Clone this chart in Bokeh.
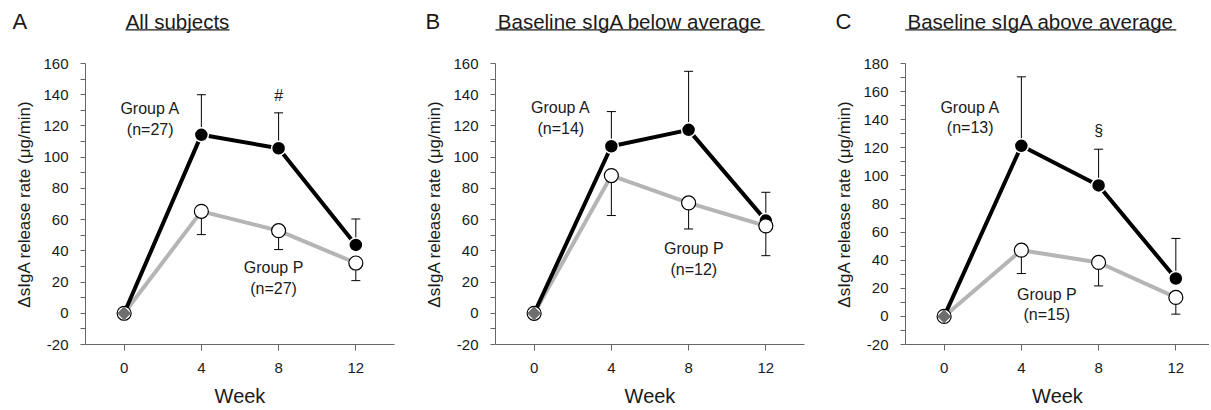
from bokeh.plotting import figure
from bokeh.layouts import row, column
from bokeh.models import FixedTicker, Range1d
from bokeh.embed import file_html
from bokeh.resources import INLINE
from bokeh.core.properties import value
import math

FONT = "Liberation Sans"

weeks = [0, 4, 8, 12]
week_ticks = [0, 4, 8, 12]

# Panel A: All subjects
a_groupA = [0, 114.3, 105.7, 43.8]
a_groupA_se = [0, 25.7, 22.7, 16.6]
a_groupP = [0, 65.3, 52.9, 32.2]
a_groupP_se = [0, 14.9, 12.1, 11.3]

# Panel B: Baseline sIgA below average
b_groupA = [0, 107.0, 117.5, 59.4]
b_groupA_se = [0, 22.2, 37.5, 18.1]
b_groupP = [0, 88.2, 70.7, 56.0]
b_groupP_se = [0, 25.6, 16.7, 19.1]

# Panel C: Baseline sIgA above average
c_groupA = [0, 121.4, 93.2, 27.0]
c_groupA_se = [0, 49.1, 25.8, 28.5]
c_groupP = [0, 47.1, 38.4, 13.5]
c_groupP_se = [0, 16.6, 16.7, 11.9]

panel_letters = ["A", "B", "C"]
panel_titles = ["All subjects", "Baseline sIgA below average", "Baseline sIgA above average"]
n_groupA = ["(n=27)", "(n=14)", "(n=13)"]
n_groupP = ["(n=27)", "(n=12)", "(n=15)"]
y_max = [160, 160, 180]
marks = ["#", None, "\u00a7"]

# layout (pixels)
TITLE_H = 55
PX_PER_WEEK = 19.31
fig_widths = [400, 408, 401]
border_left = [85, 95, 97]
border_right = [6, 4, 0]
letter_left = [12, 425, 835]
title_center = [177, 629.5, 1040.3]
underline_w = [104, 269, 271]

TOTAL_W = sum(fig_widths)

# ---- title strip (letters + underlined titles) ----
t = figure(width=TOTAL_W, height=TITLE_H, output_backend="svg", toolbar_location=None,
           x_range=Range1d(0, TOTAL_W), y_range=Range1d(TITLE_H, 0),
           x_axis_type=None, y_axis_type=None,
           min_border_left=0, min_border_right=0, min_border_top=0, min_border_bottom=0)
t.outline_line_color = None
t.xgrid.visible = False
t.ygrid.visible = False
t.text(x=letter_left, y=[20.5] * 3, text=panel_letters, text_font=value(FONT),
       text_font_size="22px", text_color="#1a1a1a", text_align="left",
       text_baseline="middle")
t.text(x=title_center, y=[20.5] * 3, text=panel_titles, text_font=value(FONT),
       text_font_size="20.5px", text_color="#1a1a1a", text_align="center",
       text_baseline="middle")
t.segment(x0=[c - w / 2 for c, w in zip(title_center, underline_w)], y0=[29.3] * 3,
          x1=[c + w / 2 for c, w in zip(title_center, underline_w)], y1=[29.3] * 3,
          line_color="#1a1a1a", line_width=1.2)


def make_panel(A, A_se, P, P_se, ymax, nA, nP, labA, labP, mark, mark_y,
               width, left, right):
    frame_w = width - left - right
    x_end = -2 + frame_w / PX_PER_WEEK
    p = figure(width=width, height=410 - TITLE_H, output_backend="svg",
               toolbar_location=None,
               x_range=Range1d(-2, x_end), y_range=Range1d(-20, ymax),
               min_border_left=left, min_border_right=right,
               min_border_top=8, min_border_bottom=66)
    p.outline_line_color = None
    p.xgrid.visible = False
    p.ygrid.visible = False

    # axes
    p.xaxis.ticker = FixedTicker(ticks=week_ticks)
    p.yaxis.ticker = FixedTicker(ticks=list(range(-20, ymax + 1, 20)),
                                 minor_ticks=list(range(-10, ymax, 20)))
    p.yaxis.major_label_overrides = {-20: "-20"}
    for ax in (p.xaxis[0], p.yaxis[0]):
        ax.axis_line_color = "#666666"
        ax.major_tick_line_color = "#666666"
        ax.minor_tick_line_color = "#666666"
        ax.major_tick_in = 0
        ax.minor_tick_in = 0
        ax.major_label_text_font = FONT
        ax.major_label_text_font_size = "15px"
        ax.major_label_text_color = "#1a1a1a"
        ax.axis_label_text_font = FONT
        ax.axis_label_text_font_style = "normal"
        ax.axis_label_text_color = "#1a1a1a"
    p.xaxis.major_tick_out = 6
    p.xaxis.minor_tick_line_color = None
    p.xaxis.major_label_standoff = 12
    p.xaxis.axis_label = "Week"
    p.xaxis.axis_label_text_font_size = "20px"
    p.xaxis.axis_label_standoff = 9
    p.yaxis.major_tick_out = 5
    p.yaxis.minor_tick_out = 5
    p.yaxis.major_label_standoff = 12
    p.yaxis.axis_label = "\u0394sIgA release rate (\u03bcg/min)"
    p.yaxis.axis_label_text_font_size = "17px"
    p.yaxis.axis_label_standoff = 6

    # error bars: group A upward, group P downward
    xs = weeks[1:]
    a_top = [m + s for m, s in zip(A[1:], A_se[1:])]
    p_bot = [m - s for m, s in zip(P[1:], P_se[1:])]
    p.segment(x0=xs, y0=A[1:], x1=xs, y1=a_top, line_color="black", line_width=1)
    p.scatter(x=xs, y=a_top, marker="dash", size=9, line_color="black", line_width=1)
    p.segment(x0=xs, y0=P[1:], x1=xs, y1=p_bot, line_color="black", line_width=1)
    p.scatter(x=xs, y=p_bot, marker="dash", size=9, line_color="black", line_width=1)

    # lines
    p.line(weeks, P, line_color="#b5b5b5", line_width=4, line_join="round")
    p.line(weeks, A, line_color="black", line_width=4, line_join="round")

    # markers
    p.scatter(x=xs, y=A[1:], marker="circle", size=14, fill_color="black",
              line_color="white", line_width=1.5)
    p.scatter(x=weeks, y=P, marker="circle", size=14, fill_color="white",
              line_color="black", line_width=1.2)
    p.scatter(x=weeks[:1], y=P[:1], marker="square", angle=math.pi / 4, size=9,
              fill_color="#6e6e6e", line_color="#6e6e6e", line_width=1)

    # group labels
    p.text(x=[labA[0], labA[0]], y=[labA[1], labA[2]], text=["Group A", nA],
           text_font=value(FONT), text_font_size="16px", text_color="#1a1a1a",
           text_align="center", text_baseline="middle")
    p.text(x=[labP[0], labP[0]], y=[labP[1], labP[2]], text=["Group P", nP],
           text_font=value(FONT), text_font_size="16px", text_color="#1a1a1a",
           text_align="center", text_baseline="middle")
    if mark:
        p.text(x=[8], y=[mark_y], text=[mark], text_font=value(FONT),
               text_font_size="16px", text_color="#1a1a1a",
               text_align="center", text_baseline="middle")
    return p


pA = make_panel(a_groupA, a_groupA_se, a_groupP, a_groupP_se,
                y_max[0], n_groupA[0], n_groupP[0], (1.35, 131, 118), (7.74, 29.2, 16),
                marks[0], 139.5, fig_widths[0], border_left[0], border_right[0])
pB = make_panel(b_groupA, b_groupA_se, b_groupP, b_groupP_se,
                y_max[1], n_groupA[1], n_groupP[1], (1.38, 131.8, 118.3), (8.27, 41.4, 28),
                marks[1], 0, fig_widths[1], border_left[1], border_right[1])
pC = make_panel(c_groupA, c_groupA_se, c_groupP, c_groupP_se,
                y_max[2], n_groupA[2], n_groupP[2], (1.35, 148.7, 134.2), (5.32, 15.8, 1.6),
                marks[2], 132, fig_widths[2], border_left[2], border_right[2])

layout = column(t, row(pA, pB, pC))
open("out.html", "w").write(file_html(layout, INLINE))
